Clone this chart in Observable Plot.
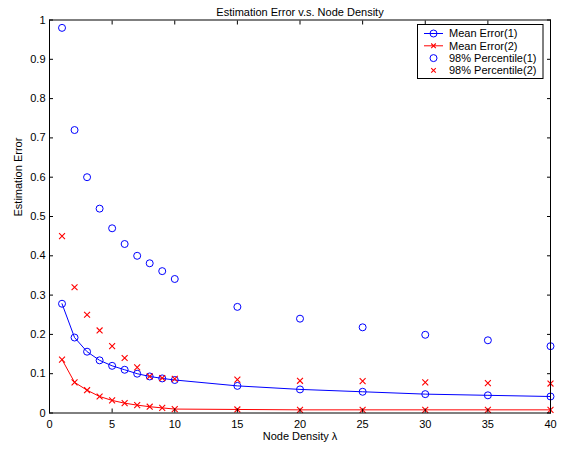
<!DOCTYPE html>
<html>
<head>
<meta charset="utf-8">
<script src="https://cdn.jsdelivr.net/npm/d3@7"></script>
<script src="https://cdn.jsdelivr.net/npm/@observablehq/plot@0.6"></script>
<style>
  html, body { margin: 0; padding: 0; background: #fff; }
  #wrap { position: relative; width: 568px; height: 449px; }
  #wrap svg { display: block; }
  #legend { position: absolute; left: 0; top: 0; }
</style>
</head>
<body>
<div id="wrap"></div>
<script>
const title = "Estimation Error v.s. Node Density";
const xTitle = "Node Density λ";
const yTitle = "Estimation Error";

const density = [1, 2, 3, 4, 5, 6, 7, 8, 9, 10, 15, 20, 25, 30, 35, 40];
const meanError1 = [0.278, 0.192, 0.156, 0.134, 0.120, 0.110, 0.100, 0.093, 0.088, 0.084, 0.069, 0.060, 0.054, 0.048, 0.045, 0.042];
const meanError2 = [0.136, 0.078, 0.058, 0.042, 0.032, 0.025, 0.020, 0.016, 0.013, 0.010, 0.009, 0.008, 0.008, 0.008, 0.008, 0.008];
const percentile1 = [0.98, 0.72, 0.60, 0.52, 0.47, 0.43, 0.40, 0.381, 0.361, 0.341, 0.270, 0.240, 0.218, 0.199, 0.185, 0.170];
const percentile2 = [0.45, 0.32, 0.25, 0.21, 0.17, 0.14, 0.116, 0.093, 0.089, 0.087, 0.085, 0.082, 0.081, 0.078, 0.076, 0.075];

const seriesNames = ["Mean Error(1)", "Mean Error(2)", "98% Percentile(1)", "98% Percentile(2)"];
const xTicks = [0, 5, 10, 15, 20, 25, 30, 35, 40];
const yTicks = [0, 0.1, 0.2, 0.3, 0.4, 0.5, 0.6, 0.7, 0.8, 0.9, 1];
const yTickLabels = ["0", "0.1", "0.2", "0.3", "0.4", "0.5", "0.6", "0.7", "0.8", "0.9", "1"];

const BLUE = "#0000ff";
const RED = "#ff0000";
const FONT = "'Liberation Sans', Arial, Helvetica, sans-serif";
const FS = 11;

const rows = (vals) => density.map((x, i) => ({x, v: vals[i]}));
const m1 = rows(meanError1), m2 = rows(meanError2), p1 = rows(percentile1), p2 = rows(percentile2);

const chart = Plot.plot({
  width: 568,
  height: 449,
  marginLeft: 49,
  marginRight: 18,
  marginTop: 19.5,
  marginBottom: 36.5,
  style: {fontFamily: FONT, fontSize: FS + "px", background: "#fff", color: "#000"},
  x: {domain: [0, 40]},
  y: {domain: [0, 1]},
  marks: [
    Plot.line(m1, {x: "x", y: "v", stroke: BLUE, strokeWidth: 1}),
    Plot.dot(m1, {x: "x", y: "v", stroke: BLUE, fill: "none", r: 3.5, strokeWidth: 1}),
    Plot.line(m2, {x: "x", y: "v", stroke: RED, strokeWidth: 1}),
    Plot.dot(m2, {x: "x", y: "v", stroke: RED, symbol: "times", r: 2.8, strokeWidth: 1.1}),
    Plot.dot(p1, {x: "x", y: "v", stroke: BLUE, fill: "none", r: 3.5, strokeWidth: 1}),
    Plot.dot(p2, {x: "x", y: "v", stroke: RED, symbol: "times", r: 2.8, strokeWidth: 1.1}),
    Plot.frame({stroke: "#000", strokeWidth: 1}),
    // labels
    Plot.axisX({ticks: xTicks, tickSize: 0, tickPadding: 7, label: null, tickFormat: d => String(d)}),
    Plot.axisY({ticks: yTicks, tickSize: 0, tickPadding: 4, label: null, tickFormat: d => yTickLabels[yTicks.indexOf(d)]}),
    // inward ticks
    Plot.axisX({ticks: xTicks, anchor: "bottom", tickSize: -4, fill: "none", label: null}),
    Plot.axisX({ticks: xTicks, anchor: "top", tickSize: -4, fill: "none", label: null}),
    Plot.axisY({ticks: yTicks, anchor: "left", tickSize: -4, fill: "none", label: null}),
    Plot.axisY({ticks: yTicks, anchor: "right", tickSize: -4, fill: "none", label: null}),
    // titles
    Plot.text([title], {frameAnchor: "top", dy: -11.5, fontSize: FS}),
    Plot.text([xTitle], {frameAnchor: "bottom", dy: 26.5, fontSize: FS}),
    Plot.text([yTitle], {frameAnchor: "left", dx: -31, rotate: -90, fontSize: FS})
  ]
});

const wrap = document.getElementById("wrap");
wrap.appendChild(chart);

// Legend overlay
const lg = d3.select(wrap).append("svg")
  .attr("id", "legend")
  .attr("width", 568).attr("height", 449)
  .style("font-family", FONT).style("font-size", FS + "px");
const box = {x: 417.5, y: 24.5, w: 125.5, h: 54};
lg.append("rect").attr("x", box.x).attr("y", box.y).attr("width", box.w).attr("height", box.h)
  .attr("fill", "#fff").attr("stroke", "#000");
const styles = [
  {color: BLUE, line: true, sym: "circle"},
  {color: RED, line: true, sym: "times"},
  {color: BLUE, line: false, sym: "circle"},
  {color: RED, line: false, sym: "times"}
];
seriesNames.forEach((name, i) => {
  const y = box.y + 9 + i * 12.3;
  const s = styles[i];
  const g = lg.append("g");
  if (s.line) g.append("line").attr("x1", 424).attr("x2", 443).attr("y1", y).attr("y2", y).attr("stroke", s.color);
  if (s.sym === "circle") {
    g.append("circle").attr("cx", 433.5).attr("cy", y).attr("r", 3.5).attr("fill", "none").attr("stroke", s.color);
  } else {
    const k = 2.3;
    g.append("path").attr("d", `M${433.5-k},${y-k}L${433.5+k},${y+k}M${433.5-k},${y+k}L${433.5+k},${y-k}`)
      .attr("stroke", s.color).attr("stroke-width", 1.1).attr("fill", "none");
  }
  g.append("text").attr("x", 449).attr("y", y).attr("dy", "0.35em").attr("fill", "#000").text(name);
});
</script>
</body>
</html>
